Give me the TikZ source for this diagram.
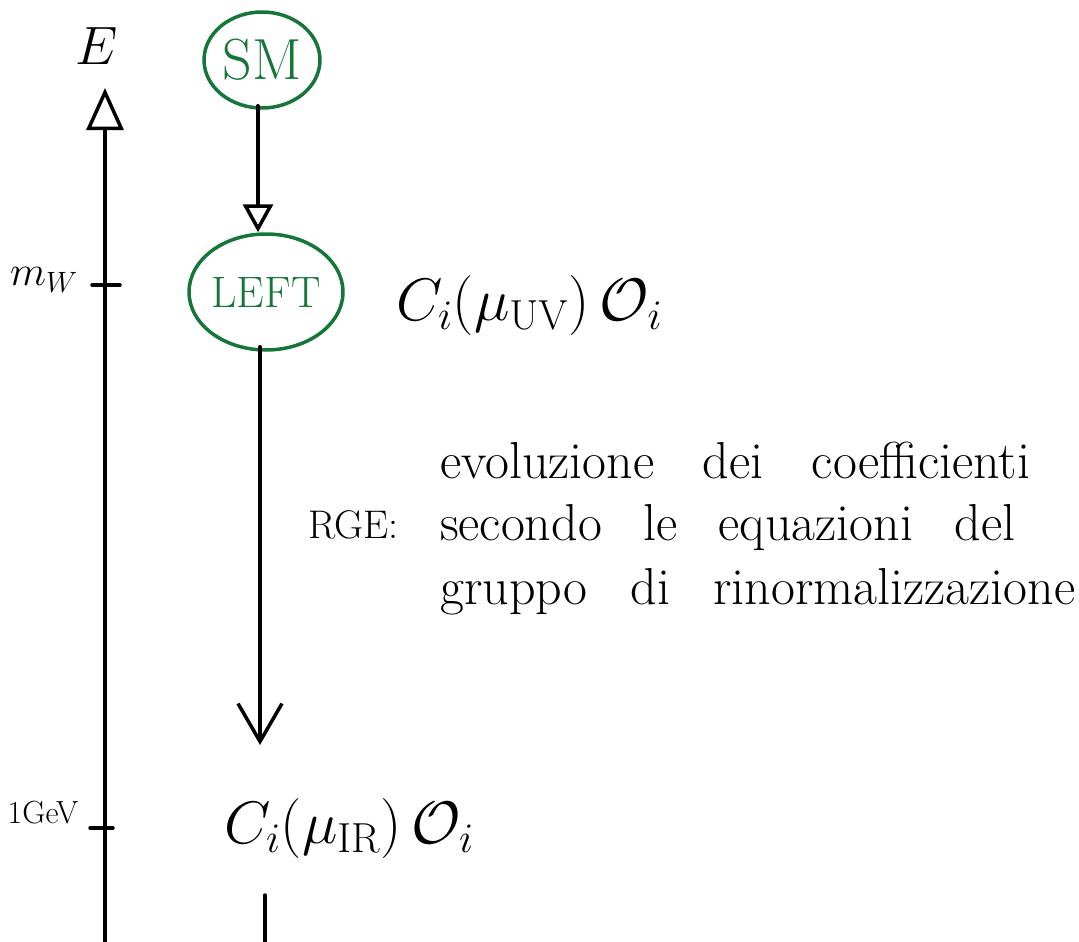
\RequirePackage{fix-cm}
\documentclass[tikz,border=0pt]{standalone}
\usetikzlibrary{arrows.meta,calc,shapes.geometric}
\definecolor{hgreen}{RGB}{22,118,58}
\begin{document}
\begin{tikzpicture}[x=1pt,y=-1pt,
  ink/.style={line width=3.5pt,black,line cap=round,line join=round},
  gink/.style={line width=3.5pt,draw=hgreen},
  lab/.style={inner sep=0pt,font=\fontsize{#1}{#1}\selectfont},
  lab/.default=30]
\useasboundingbox (0,0) rectangle (1079,942);
% energy axis
\coordinate (axbot) at (105,942);
\coordinate (axtop) at (105,88);
\draw[ink,-{Triangle[open,length=42pt,width=37pt,line width=3.5pt]}] (axbot) -- (axtop);
\node[lab=54] (E) at (97,46) {$E$};
% ticks
\coordinate (t1) at (105,285);
\coordinate (t2) at (105,828);
\draw[ink] ([xshift=-13pt]t1) -- ([xshift=15pt]t1);
\draw[ink] ([xshift=-15pt]t2) -- ([xshift=8pt]t2);
\node[lab=42] (mw) at (44,280) {$m_W$};
\node[lab=32] (gev) at (43,813) {1GeV};
% SM and LEFT
\node[gink,ellipse,minimum width=116pt,minimum height=96pt,inner sep=0pt,
  text=hgreen,font=\fontsize{58}{58}\selectfont] (SM) at (262,60) {SM};
\node[gink,ellipse,minimum width=154pt,minimum height=116pt,inner sep=0pt,
  text=hgreen,font=\fontsize{44}{44}\selectfont] (LEFT) at (266,292) {LEFT};
\draw[ink,-{Triangle[open,length=28pt,width=30pt,line width=3.5pt]}] ([xshift=-4pt,yshift=4pt]SM.south) -- ([xshift=-8pt]LEFT.north);
\node[lab=60,anchor=west] (cuv) at (396,305) {$C_i(\mu_{\mathrm{UV}})\,\mathcal{O}_i$};
% RG evolution
\coordinate (irtip) at (260,745);
\draw[ink,-{Straight Barb[length=38pt,width=44pt,line width=3.5pt]}] ([xshift=-6pt,yshift=5pt]LEFT.south) -- (irtip);
\node[lab=40,anchor=west] (rge) at (308,525) {RGE:};
\node[lab=52,anchor=west] (l1) at (440,460) {\makebox[590pt][s]{evoluzione dei coefficienti}};
\node[lab=52,anchor=west] (l2) at (440,528) {\makebox[575pt][s]{secondo le equazioni del}};
\node[lab=52,anchor=west] (l3) at (440,592) {\makebox[635pt][s]{gruppo di rinormalizzazione}};
% IR
\node[lab=60,anchor=west] (cir) at (224,828) {$C_i(\mu_{\mathrm{IR}})\,\mathcal{O}_i$};
\coordinate (bstart) at (265,895);
\coordinate (bend) at (265,942);
\draw[ink] (bstart) -- (bend);
\end{tikzpicture}
\end{document}
